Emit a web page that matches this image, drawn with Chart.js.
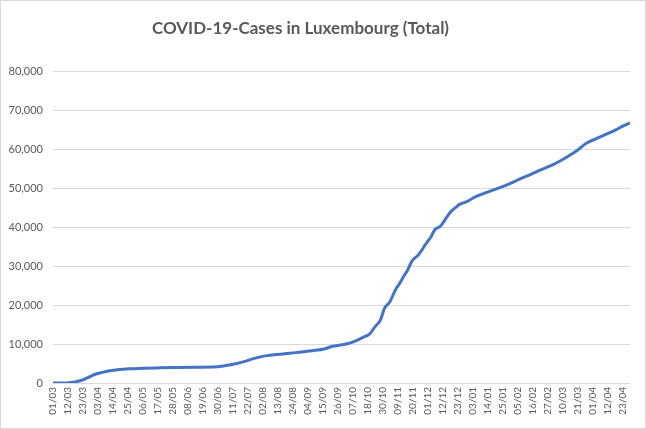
<!DOCTYPE html>
<html>
<head>
<meta charset="utf-8">
<script src="https://cdn.jsdelivr.net/npm/chart.js@4.4.1/dist/chart.umd.min.js"></script>
<style>
  html, body { margin: 0; padding: 0; background: #ffffff; }
  #wrap { position: relative; width: 644px; height: 427px; border: 1px solid #d9d9d9; }
  canvas { display: block; }
</style>
</head>
<body>
<div id="wrap"><canvas id="c" width="644" height="427"></canvas></div>
<script>
// Category tick labels shown every 11 days (day index = position * 11)
const tickLabels = ["01/03","12/03","23/03","03/04","14/04","25/04","06/05","17/05","28/05","08/06",
  "19/06","30/06","11/07","22/07","02/08","13/08","24/08","04/09","15/09","26/09",
  "07/10","18/10","30/10","09/11","20/11","01/12","12/12","23/12","03/01","14/01",
  "25/01","05/02","16/02","27/02","10/03","21/03","01/04","12/04","23/04"];
const tickStep = 11;
const lastDay = 423;

// Day index since 01/03/2020 and total cases
const dayIndex = [0,10,16,22,26,30,34,37,42,47,56,66,76,90,105,117,125,132,140,147,152,157,164,171,178,186,192,198,205,212,218,224,229,232,236,240,243,247,251,254,257,260,263,268,273,277,280,284,288,291,295,298,303,308,313,320,328,335,342,350,357,365,372,378,384,391,399,406,413,418,423];
const totalCases = [0,30,250,830,1450,2120,2550,2800,3150,3410,3670,3780,3880,4000,4060,4100,4350,4800,5500,6250,6700,7030,7300,7550,7800,8140,8400,8660,9430,9800,10290,11160,12000,12530,14420,16150,19170,20880,23900,25500,27340,29000,31220,32950,35530,37500,39400,40260,42200,43720,45000,45870,46500,47500,48300,49200,50200,51200,52330,53500,54650,55800,57070,58300,59650,61550,62840,63950,65060,66000,66800];

const points = dayIndex.map((d, i) => ({ x: d, y: totalCases[i] }));
const grey = '#595959';

const shiftTitle = {
  id: 'shiftTitle',
  afterLayout(chart) {
    const t = chart.titleBlock;
    if (t) { t.left -= 15; t.right -= 15; }
  }
};

new Chart(document.getElementById('c'), {
  type: 'line',
  data: {
    datasets: [{
      label: 'Total',
      data: points,
      borderColor: '#4472C4',
      borderWidth: 3,
      pointRadius: 0,
      fill: false,
      cubicInterpolationMode: 'monotone'
    }]
  },
  plugins: [shiftTitle],
  options: {
    responsive: false,
    animation: false,
    devicePixelRatio: 1,
    layout: { padding: { top: 11, left: 0, right: 15, bottom: 6 } },
    plugins: {
      legend: { display: false },
      tooltip: { enabled: false },
      title: {
        display: true,
        text: 'COVID-19-Cases in Luxembourg (Total)',
        color: grey,
        font: { family: 'Lato', size: 17, weight: 'bold' },
        padding: { top: 6, bottom: 33 }
      }
    },
    scales: {
      x: {
        type: 'linear',
        min: 0,
        max: lastDay,
        grid: { display: false, drawTicks: false },
        border: { display: false },
        afterBuildTicks: (scale) => {
          scale.ticks = tickLabels.map((l, i) => ({ value: i * tickStep }));
        },
        afterFit: (scale) => { scale.height = 39; },
        ticks: {
          autoSkip: false,
          maxRotation: 90,
          minRotation: 90,
          padding: 4,
          color: grey,
          font: { family: 'Lato', size: 10 },
          callback: (v) => tickLabels[Math.round(v / tickStep)]
        }
      },
      y: {
        min: 0,
        max: 80000,
        grid: { color: '#d9d9d9', lineWidth: 1, drawTicks: false },
        border: { display: false },
        afterFit: (scale) => { scale.width = 52; },
        ticks: {
          stepSize: 10000,
          padding: 10,
          color: grey,
          font: { family: 'Lato', size: 11 },
          callback: (v) => v.toLocaleString('en-US')
        }
      }
    }
  }
});
</script>
</body>
</html>
